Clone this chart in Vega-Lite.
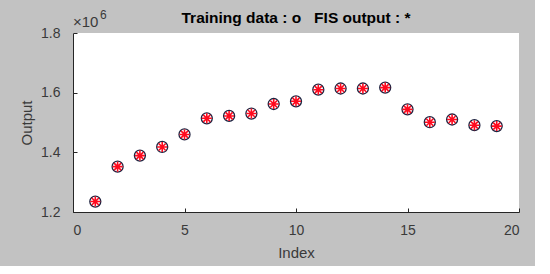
{
  "$schema": "https://vega.github.io/schema/vega-lite/v6.json",
  "autosize": {"type": "none"},
  "width": 446,
  "height": 179,
  "padding": {"left": 73, "top": 33, "right": 16, "bottom": 54},
  "background": "#c2c2c2",
  "config": {
    "font": "Liberation Sans",
    "view": {"fill": "white", "stroke": null},
    "axis": {
      "domainColor": "#262626",
      "tickColor": "#262626",
      "labelColor": "#3a3a3a",
      "titleColor": "#3a3a3a",
      "labelFont": "Liberation Sans",
      "titleFont": "Liberation Sans",
      "labelFontSize": 14,
      "titleFontSize": 15,
      "titleFontWeight": "normal",
      "grid": false,
      "tickSize": -4
    }
  },
  "title": {
    "text": "Training data : o\u00a0\u00a0 FIS output : *",
    "fontSize": 15.5,
    "fontWeight": "bold",
    "font": "Liberation Sans",
    "color": "#000000",
    "offset": -17
  },
  "datasets": {
    "pts": [
      {"Index": 1, "Training": 1235000, "FIS": 1235000},
      {"Index": 2, "Training": 1352000, "FIS": 1352000},
      {"Index": 3, "Training": 1389000, "FIS": 1389000},
      {"Index": 4, "Training": 1418000, "FIS": 1418000},
      {"Index": 5, "Training": 1460000, "FIS": 1460000},
      {"Index": 6, "Training": 1514000, "FIS": 1514000},
      {"Index": 7, "Training": 1522000, "FIS": 1522000},
      {"Index": 8, "Training": 1530000, "FIS": 1530000},
      {"Index": 9, "Training": 1562000, "FIS": 1562000},
      {"Index": 10, "Training": 1571000, "FIS": 1571000},
      {"Index": 11, "Training": 1610000, "FIS": 1610000},
      {"Index": 12, "Training": 1614000, "FIS": 1614000},
      {"Index": 13, "Training": 1614000, "FIS": 1614000},
      {"Index": 14, "Training": 1617000, "FIS": 1617000},
      {"Index": 15, "Training": 1544000, "FIS": 1544000},
      {"Index": 16, "Training": 1501000, "FIS": 1501000},
      {"Index": 17, "Training": 1510000, "FIS": 1510000},
      {"Index": 18, "Training": 1491000, "FIS": 1491000},
      {"Index": 19, "Training": 1488000, "FIS": 1488000}
    ],
    "exp": [{"base": "×10", "power": "6"}]
  },
  "layer": [
    {
      "data": {"name": "pts"},
      "mark": {"type": "point", "shape": "circle", "filled": false, "stroke": "#1f2340", "strokeWidth": 1.3, "size": 121, "opacity": 1},
      "encoding": {
        "x": {
          "field": "Index", "type": "quantitative",
          "scale": {"domain": [0, 20], "nice": false, "zero": false},
          "axis": {"values": [0, 5, 10, 15, 20], "title": "Index", "labelPadding": 15, "titlePadding": 8}
        },
        "y": {
          "field": "Training", "type": "quantitative",
          "scale": {"domain": [1200000, 1800000], "nice": false, "zero": false},
          "axis": {"values": [1200000, 1400000, 1600000, 1800000], "labelExpr": "format(datum.value / 1000000, '.1f')", "title": "Output", "labelPadding": 17, "titlePadding": 6}
        }
      }
    },
    {
      "data": {"name": "pts"},
      "mark": {"type": "point", "shape": "M0,-1L0,1M-1,0L1,0M-0.7,-0.7L0.7,0.7M-0.7,0.7L0.7,-0.7", "filled": false, "stroke": "#ff0a1e", "strokeWidth": 1.6, "size": 100, "opacity": 1},
      "encoding": {
        "x": {"field": "Index", "type": "quantitative"},
        "y": {"field": "FIS", "type": "quantitative"}
      }
    },
    {
      "data": {"name": "exp"},
      "mark": {"type": "text", "align": "left", "baseline": "alphabetic", "dy": -6, "fontSize": 15, "color": "#3a3a3a", "font": "Liberation Sans"},
      "encoding": {
        "x": {"datum": 0, "type": "quantitative"},
        "y": {"datum": 1800000, "type": "quantitative"},
        "text": {"field": "base"}
      }
    },
    {
      "data": {"name": "exp"},
      "mark": {"type": "text", "align": "left", "baseline": "alphabetic", "dx": 27, "dy": -14, "fontSize": 12, "color": "#3a3a3a", "font": "Liberation Sans"},
      "encoding": {
        "x": {"datum": 0, "type": "quantitative"},
        "y": {"datum": 1800000, "type": "quantitative"},
        "text": {"field": "power"}
      }
    }
  ]
}
